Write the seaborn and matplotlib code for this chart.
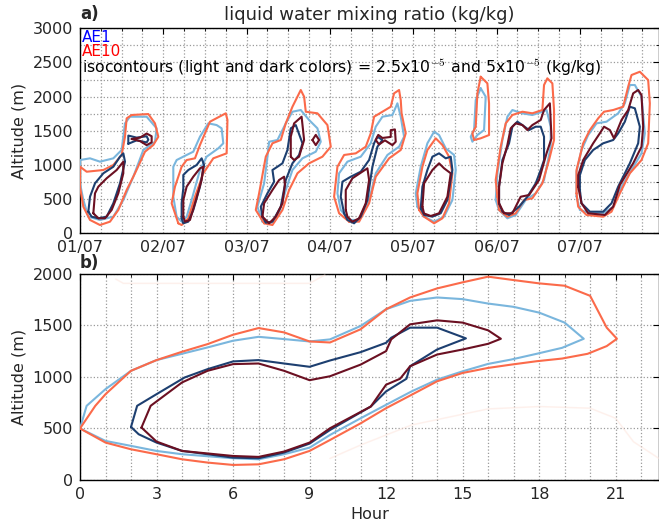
import numpy as np
import pandas as pd
import matplotlib
matplotlib.use("Agg")
import matplotlib.pyplot as plt
import seaborn as sns

# isocontours
# panel a: x = days since 01/07 00h, y = altitude (m)
d1_ae10_lo = [(0.00, 974), (0.08, 901), (0.28, 926), (0.40, 999), (0.50, 1146), (0.54, 1413), (0.56, 1682),
              (0.62, 1731), (0.82, 1745), (0.90, 1609), (0.94, 1413), (0.88, 1292), (0.78, 1194), (0.66, 878),
              (0.56, 633), (0.46, 341), (0.36, 170), (0.24, 121), (0.12, 195), (0.04, 389), (0.00, 682)]
d1_ae1_lo = [(0.00, 1072), (0.12, 1097), (0.24, 1048), (0.40, 1097), (0.50, 1219), (0.54, 1609), (0.60, 1706),
             (0.80, 1706), (0.92, 1536), (0.90, 1340), (0.76, 1219), (0.64, 828), (0.52, 487), (0.40, 243),
             (0.24, 195), (0.10, 243), (0.04, 487), (0.00, 731)]
d1_ae1_hi = [(0.10, 316), (0.12, 535), (0.18, 731), (0.28, 878), (0.40, 974), (0.48, 1121), (0.52, 1170),
             (0.54, 1048), (0.48, 731), (0.40, 439), (0.32, 243), (0.22, 219), (0.14, 243)]
d1_ae10_hi = [(0.16, 293), (0.18, 585), (0.22, 682), (0.32, 805), (0.44, 926), (0.52, 1048), (0.52, 878),
              (0.46, 585), (0.38, 341), (0.30, 219), (0.22, 219)]
d1_ae1_hi_b = [(0.58, 1310), (0.58, 1430), (0.68, 1400), (0.80, 1420), (0.82, 1370), (0.80, 1330), (0.68, 1360)]
d1_ae10_hi_b = [(0.62, 1380), (0.72, 1400), (0.80, 1460), (0.86, 1420), (0.86, 1330), (0.80, 1290), (0.72, 1350)]

d2_ae10_lo = [(1.18, 146), (1.10, 439), (1.14, 682), (1.22, 974), (1.28, 1072), (1.38, 1097), (1.44, 1292),
              (1.56, 1633), (1.75, 1756), (1.77, 1658), (1.76, 1170), (1.60, 1097), (1.48, 878), (1.38, 535),
              (1.30, 219), (1.22, 121)]
d2_ae1_lo = [(1.16, 243), (1.12, 535), (1.12, 974), (1.16, 1072), (1.28, 1146), (1.36, 1194), (1.44, 1413),
             (1.54, 1609), (1.64, 1584), (1.70, 1536), (1.72, 1317), (1.66, 1243), (1.52, 1121), (1.44, 926),
             (1.34, 487), (1.28, 243), (1.22, 170)]
d2_ae1_hi = [(1.22, 219), (1.22, 439), (1.24, 658), (1.24, 853), (1.30, 926), (1.40, 999), (1.46, 1097),
             (1.49, 999), (1.44, 682), (1.36, 341), (1.30, 170), (1.24, 146)]
d2_ae10_hi = [(1.24, 243), (1.24, 487), (1.28, 682), (1.36, 828), (1.44, 951), (1.48, 974), (1.46, 780),
              (1.38, 439), (1.32, 195), (1.26, 170)]

d3_ae10_lo = [(2.21, 146), (2.11, 341), (2.15, 585), (2.23, 1121), (2.31, 1317), (2.41, 1365), (2.47, 1609),
              (2.55, 1852), (2.65, 2097), (2.69, 1999), (2.71, 1779), (2.85, 1756), (2.97, 1584), (3.01, 1267),
              (2.91, 1121), (2.75, 1024), (2.61, 878), (2.51, 633), (2.43, 341), (2.31, 121)]
d3_ae1_lo = [(2.19, 170), (2.13, 389), (2.21, 731), (2.25, 1121), (2.27, 1340), (2.37, 1365), (2.47, 1609),
             (2.55, 1779), (2.65, 1804), (2.75, 1658), (2.85, 1536), (2.89, 1340), (2.83, 1194), (2.67, 1097),
             (2.55, 926), (2.47, 633), (2.39, 293), (2.29, 146)]
d3_ae1_hi = [(2.19, 243), (2.17, 389), (2.25, 585), (2.33, 755), (2.31, 926), (2.37, 974), (2.43, 1024),
             (2.49, 1219), (2.53, 1536), (2.59, 1584), (2.67, 1317), (2.63, 1146), (2.55, 1024), (2.47, 780),
             (2.41, 389), (2.31, 170), (2.23, 155)]
d3_ae10_hi = [(2.19, 243), (2.21, 439), (2.31, 633), (2.39, 780), (2.45, 828), (2.46, 707), (2.43, 439),
              (2.35, 243), (2.27, 146)]
d3_ae10_hi_b = [(2.53, 1121), (2.53, 1413), (2.57, 1609), (2.66, 1706), (2.69, 1365), (2.63, 1121), (2.57, 1072)]
d3_ae10_hi_c = [(2.79, 1365), (2.83, 1440), (2.87, 1365), (2.83, 1290)]

d4_ae10_lo = [(3.23, 170), (3.11, 293), (3.05, 535), (3.09, 974), (3.17, 1146), (3.31, 1170), (3.43, 1267),
              (3.49, 1463), (3.53, 1706), (3.63, 1779), (3.73, 1852), (3.77, 2048), (3.83, 2097), (3.85, 1950),
              (3.86, 1756), (3.91, 1463), (3.85, 1219), (3.71, 1097), (3.55, 828), (3.47, 439), (3.35, 170)]
d4_ae1_lo = [(3.23, 195), (3.13, 341), (3.09, 585), (3.11, 878), (3.21, 1048), (3.37, 1121), (3.49, 1317),
             (3.55, 1560), (3.63, 1706), (3.75, 1731), (3.81, 1902), (3.85, 1706), (3.89, 1413), (3.83, 1267),
             (3.69, 1146), (3.55, 878), (3.47, 487), (3.35, 195)]
d4_ae1_hi = [(3.17, 293), (3.13, 535), (3.15, 755), (3.25, 828), (3.37, 901), (3.47, 1072), (3.53, 1317),
             (3.57, 1413), (3.63, 1365), (3.57, 1267), (3.51, 974), (3.45, 487), (3.37, 243), (3.29, 146),
             (3.21, 195)]
d4_ae10_hi = [(3.19, 341), (3.19, 633), (3.27, 805), (3.45, 951), (3.47, 780), (3.43, 439), (3.35, 219),
              (3.27, 170), (3.21, 243)]
d4_ae10_hi_b = [(3.55, 1365), (3.58, 1440), (3.63, 1395), (3.73, 1410), (3.73, 1510), (3.78, 1520), (3.79, 1340),
                (3.75, 1290), (3.66, 1360), (3.59, 1300)]

d5_ae10_lo = [(4.07, 341), (4.05, 585), (4.11, 974), (4.17, 1219), (4.27, 1390), (4.35, 1292), (4.43, 1121),
              (4.47, 878), (4.43, 439), (4.35, 219), (4.25, 146), (4.13, 243)]
d5_ae1_lo = [(4.05, 389), (4.03, 585), (4.09, 974), (4.17, 1317), (4.25, 1487), (4.31, 1438), (4.39, 1243),
             (4.49, 1146), (4.51, 926), (4.47, 487), (4.37, 243), (4.25, 170), (4.13, 243)]
d5_ae1_hi = [(4.09, 365), (4.11, 682), (4.17, 926), (4.23, 1121), (4.31, 1170), (4.39, 1097), (4.45, 1121),
             (4.47, 926), (4.41, 487), (4.33, 293), (4.23, 243), (4.13, 268)]
d5_ae10_hi = [(4.11, 389), (4.13, 731), (4.23, 926), (4.31, 1024), (4.37, 951), (4.45, 878), (4.41, 535),
              (4.31, 293), (4.21, 253), (4.13, 290)]
d5_ae10_lo_b = [(4.81, 2291), (4.89, 2194), (4.91, 1902), (4.91, 1438), (4.81, 1390), (4.73, 1365), (4.71, 1463),
                (4.75, 1560), (4.77, 2048)]
d5_ae1_lo_b = [(4.81, 2121), (4.87, 1999), (4.85, 1511), (4.77, 1438), (4.71, 1340), (4.69, 1413), (4.73, 1511),
               (4.75, 1950)]

d6_ae10_lo = [(5.01, 535), (5.03, 341), (5.13, 243), (5.23, 293), (5.33, 487), (5.43, 512), (5.55, 731),
              (5.63, 1072), (5.69, 1365), (5.69, 1804), (5.67, 2194), (5.61, 2268), (5.57, 2170), (5.55, 1804),
              (5.43, 1756), (5.31, 1779), (5.19, 1731), (5.11, 1609), (5.05, 1267), (4.99, 780)]
d6_ae1_lo = [(4.99, 487), (5.03, 341), (5.13, 219), (5.23, 268), (5.35, 487), (5.47, 585), (5.57, 780),
             (5.65, 1267), (5.65, 1560), (5.60, 1804), (5.55, 1780), (5.43, 1731), (5.31, 1755), (5.19, 1804),
             (5.13, 1706), (5.07, 1365), (5.01, 878)]
d6_ae1_hi = [(5.03, 439), (5.07, 316), (5.15, 268), (5.27, 389), (5.37, 535), (5.47, 731), (5.53, 926),
             (5.57, 1072), (5.57, 1413), (5.53, 1560), (5.47, 1560), (5.39, 1511), (5.31, 1584), (5.25, 1633),
             (5.19, 1560), (5.15, 1317), (5.07, 1072), (5.03, 682)]
d6_ae10_hi = [(5.03, 439), (5.09, 293), (5.19, 293), (5.29, 535), (5.39, 560), (5.51, 780), (5.60, 1170),
              (5.66, 1390), (5.64, 1902), (5.57, 1804), (5.53, 1658), (5.43, 1584), (5.37, 1511), (5.31, 1584),
              (5.23, 1609), (5.17, 1536), (5.13, 1292), (5.07, 1024), (5.03, 682)]

d7_ae10_lo = [(5.96, 585), (5.98, 389), (6.08, 268), (6.28, 243), (6.38, 316), (6.48, 585), (6.60, 878),
              (6.74, 1072), (6.82, 1317), (6.84, 1902), (6.82, 2243), (6.72, 2364), (6.62, 2316), (6.58, 2145),
              (6.52, 1852), (6.40, 1804), (6.29, 1779), (6.22, 1682), (6.12, 1511), (6.04, 1317), (5.96, 926)]
d7_ae1_lo = [(5.96, 540), (6.00, 341), (6.12, 293), (6.28, 293), (6.40, 389), (6.50, 682), (6.62, 926),
             (6.74, 1170), (6.78, 1463), (6.74, 1999), (6.66, 2170), (6.60, 2170), (6.54, 1902), (6.46, 1756),
             (6.32, 1633), (6.20, 1609), (6.10, 1438), (6.02, 1219), (5.96, 900)]
d7_ae1_hi = [(6.00, 633), (6.02, 439), (6.12, 316), (6.28, 316), (6.38, 439), (6.46, 682), (6.60, 1024),
             (6.70, 1317), (6.72, 1560), (6.66, 1829), (6.60, 1852), (6.54, 1633), (6.46, 1463), (6.40, 1365),
             (6.28, 1317), (6.16, 1219), (6.06, 1072), (6.00, 850)]
d7_ae10_hi = [(5.98, 682), (6.02, 439), (6.10, 293), (6.30, 268), (6.40, 389), (6.48, 707), (6.64, 1024),
              (6.74, 1267), (6.76, 1560), (6.74, 2023), (6.70, 2097), (6.64, 2048), (6.58, 1804), (6.50, 1658),
              (6.41, 1390), (6.36, 1511), (6.29, 1560), (6.24, 1463), (6.16, 1317), (6.04, 1072), (5.98, 850)]

day_labels = ["01/07", "02/07", "03/07", "04/07", "05/07", "06/07", "07/07"]

# panel b: composite day, x = hour, y = altitude (m)
b_ae10_lo = [(0, 500), (0.6, 720), (1, 833), (2, 1060), (3, 1164), (4, 1245), (5, 1319), (6, 1410), (7, 1475),
             (8, 1433), (9, 1345), (9.8, 1335), (11, 1463), (12, 1658), (12.94, 1772), (14, 1860), (15, 1919),
             (16, 1974), (17, 1941), (18, 1909), (19, 1886), (20, 1788), (20.65, 1479), (21.05, 1371),
             (20.65, 1300), (19.9, 1225), (18.9, 1179), (17.9, 1153), (16.9, 1120), (16, 1088), (15, 1039),
             (14, 958), (13, 827), (12, 697), (11, 550), (9.8, 388), (9, 282), (8, 201), (7, 152), (6, 146),
             (5, 169), (4, 201), (3, 250), (2, 298), (1, 363)]
b_ae1_lo = [(0, 500), (0.26, 720), (1, 882), (2, 1060), (3, 1164), (5, 1287), (6, 1352), (7, 1390), (8, 1368),
            (9, 1345), (9.8, 1365), (11, 1495), (12, 1658), (12.94, 1739), (14, 1772), (15, 1756), (16, 1713),
            (17, 1681), (18, 1625), (19, 1528), (19.75, 1371), (18.9, 1283), (17.9, 1225), (16.9, 1169),
            (16, 1127), (15, 1055), (14, 974), (13, 860), (12, 730), (11, 599), (9.8, 437), (9, 314), (8, 250),
            (7, 201), (6, 211), (4, 250), (3, 282), (2, 331), (1, 379)]
b_ae1_hi = [(2, 515), (2.24, 720), (3, 833), (4.1, 995), (5, 1076), (6, 1151), (7, 1164), (8, 1131), (9, 1099),
            (9.8, 1160), (11, 1241), (12, 1332), (12.2, 1381), (12.94, 1479), (14, 1479), (15.13, 1375),
            (14, 1267), (12.94, 1104), (12.8, 983), (12, 860), (11.4, 713), (9.8, 485), (9, 353), (8, 266),
            (7, 211), (6, 217), (5, 250), (4, 282), (3, 363), (2.3, 444)]
b_ae10_hi = [(2.41, 509), (2.77, 720), (4, 947), (5, 1060), (6, 1125), (7, 1131), (8, 1060), (9, 969),
             (9.8, 1007), (11, 1120), (12, 1251), (12.2, 1365), (12.94, 1511), (14, 1550), (15, 1528), (16, 1453),
             (16.5, 1371), (16, 1322), (15, 1267), (14, 1218), (12.94, 1104), (12.55, 983), (12, 925),
             (11.4, 713), (9.8, 502), (9, 363), (8, 276), (7, 224), (6, 233), (4, 282), (3, 373)]
b_faint_ae10 = [(9.8, 209), (11, 339), (13, 534), (16, 690), (18, 713), (20, 697), (21, 599), (21.7, 371),
                (22.7, 209)]
b_faint_top = [(1.4, 1951), (1.7, 1909), (9, 1909), (9.6, 1990)]

colors = {"ae1_lo": "#7ab6dd", "ae1_hi": "#1d3f70", "ae10_lo": "#fb6a4a", "ae10_hi": "#6b1022"}

panel_a = [
    (d1_ae1_lo, "ae1_lo"), (d2_ae1_lo, "ae1_lo"), (d3_ae1_lo, "ae1_lo"), (d4_ae1_lo, "ae1_lo"),
    (d5_ae1_lo, "ae1_lo"), (d5_ae1_lo_b, "ae1_lo"), (d6_ae1_lo, "ae1_lo"), (d7_ae1_lo, "ae1_lo"),
    (d1_ae10_lo, "ae10_lo"), (d2_ae10_lo, "ae10_lo"), (d3_ae10_lo, "ae10_lo"), (d4_ae10_lo, "ae10_lo"),
    (d5_ae10_lo, "ae10_lo"), (d5_ae10_lo_b, "ae10_lo"), (d6_ae10_lo, "ae10_lo"), (d7_ae10_lo, "ae10_lo"),
    (d1_ae1_hi, "ae1_hi"), (d1_ae1_hi_b, "ae1_hi"), (d2_ae1_hi, "ae1_hi"), (d3_ae1_hi, "ae1_hi"),
    (d4_ae1_hi, "ae1_hi"), (d5_ae1_hi, "ae1_hi"), (d6_ae1_hi, "ae1_hi"), (d7_ae1_hi, "ae1_hi"),
    (d1_ae10_hi, "ae10_hi"), (d1_ae10_hi_b, "ae10_hi"), (d2_ae10_hi, "ae10_hi"), (d3_ae10_hi, "ae10_hi"),
    (d3_ae10_hi_b, "ae10_hi"), (d3_ae10_hi_c, "ae10_hi"), (d4_ae10_hi, "ae10_hi"), (d4_ae10_hi_b, "ae10_hi"),
    (d5_ae10_hi, "ae10_hi"), (d6_ae10_hi, "ae10_hi"), (d7_ae10_hi, "ae10_hi"),
]
panel_b = [(b_ae1_lo, "ae1_lo"), (b_ae10_lo, "ae10_lo"), (b_ae1_hi, "ae1_hi"), (b_ae10_hi, "ae10_hi")]

sns.set_style("white")
plt.rcParams["font.family"] = ["DejaVu Sans"]
plt.rcParams["mathtext.fontset"] = "cm"


def draw(ax, pts, color, closed=True, lw=1.5, alpha=1.0):
    arr = np.array(pts + [pts[0]] if closed else pts, dtype=float)
    df = pd.DataFrame({"x": arr[:, 0], "y": arr[:, 1]})
    sns.lineplot(data=df, x="x", y="y", sort=False, estimator=None, color=color,
                 lw=lw, alpha=alpha, ax=ax, zorder=3)


def style_axes(ax):
    for s in ax.spines.values():
        s.set_color("black")
        s.set_linewidth(1.0)
    ax.tick_params(which="both", direction="in", top=True, right=True, labelsize=11.5,
                   color="black", length=4, pad=5)
    ax.tick_params(which="minor", length=2)
    ax.grid(which="both", ls=":", color="#9a9a9a", lw=0.9, zorder=0)
    ax.set_axisbelow(True)


fig = plt.figure(figsize=(6.59, 5.26), dpi=100)
ax1 = fig.add_axes([0.1214, 0.5565, 0.8786, 0.3897])
ax2 = fig.add_axes([0.1214, 0.0875, 0.8786, 0.3916])

# panel a
for pts, key in panel_a:
    draw(ax1, pts, colors[key])
ax1.set_xlim(0, 6.95)
ax1.set_ylim(0, 3000)
ax1.set_xticks(range(7))
ax1.set_xticklabels(day_labels)
ax1.set_xticks(np.arange(0, 7, 0.25), minor=True)
ax1.set_yticks(range(0, 3001, 500))
ax1.set_yticks(range(0, 3001, 250), minor=True)
style_axes(ax1)
ax1.set_xlabel("")
ax1.set_ylabel("Altitude (m)", fontsize=11.5)
ax1.set_title("liquid water mixing ratio (kg/kg)", fontsize=13, pad=6)
ax1.text(0.0, 1.025, "a)", transform=ax1.transAxes, fontsize=12, fontweight="bold", va="bottom")
ax1.text(0.004, 0.99, "AE1", color="blue", transform=ax1.transAxes, fontsize=11, va="top")
ax1.text(0.004, 0.925, "AE10", color="red", transform=ax1.transAxes, fontsize=11, va="top")
ax1.text(0.004, 0.86,
         r"isocontours (light and dark colors) = 2.5x10$^{-5}$ and 5x10$^{-5}$ (kg/kg)",
         color="black", transform=ax1.transAxes, fontsize=11.3, va="top")

# panel b
draw(ax2, b_faint_ae10, "#fde3da", closed=False, lw=1.1, alpha=0.5)
draw(ax2, b_faint_top, "#fde3da", closed=False, lw=1.1, alpha=0.5)
for pts, key in panel_b:
    draw(ax2, pts, colors[key])
ax2.set_xlim(0, 22.7)
ax2.set_ylim(0, 2000)
ax2.set_xticks(range(0, 22, 3))
ax2.set_xticks(range(0, 23), minor=True)
ax2.set_yticks(range(0, 2001, 500))
style_axes(ax2)
ax2.set_xlabel("Hour", fontsize=11.5)
ax2.set_ylabel("Altitude (m)", fontsize=11.5)
ax2.text(0.0, 1.01, "b)", transform=ax2.transAxes, fontsize=12, fontweight="bold", va="bottom")

fig.savefig("out.png", dpi=100)
